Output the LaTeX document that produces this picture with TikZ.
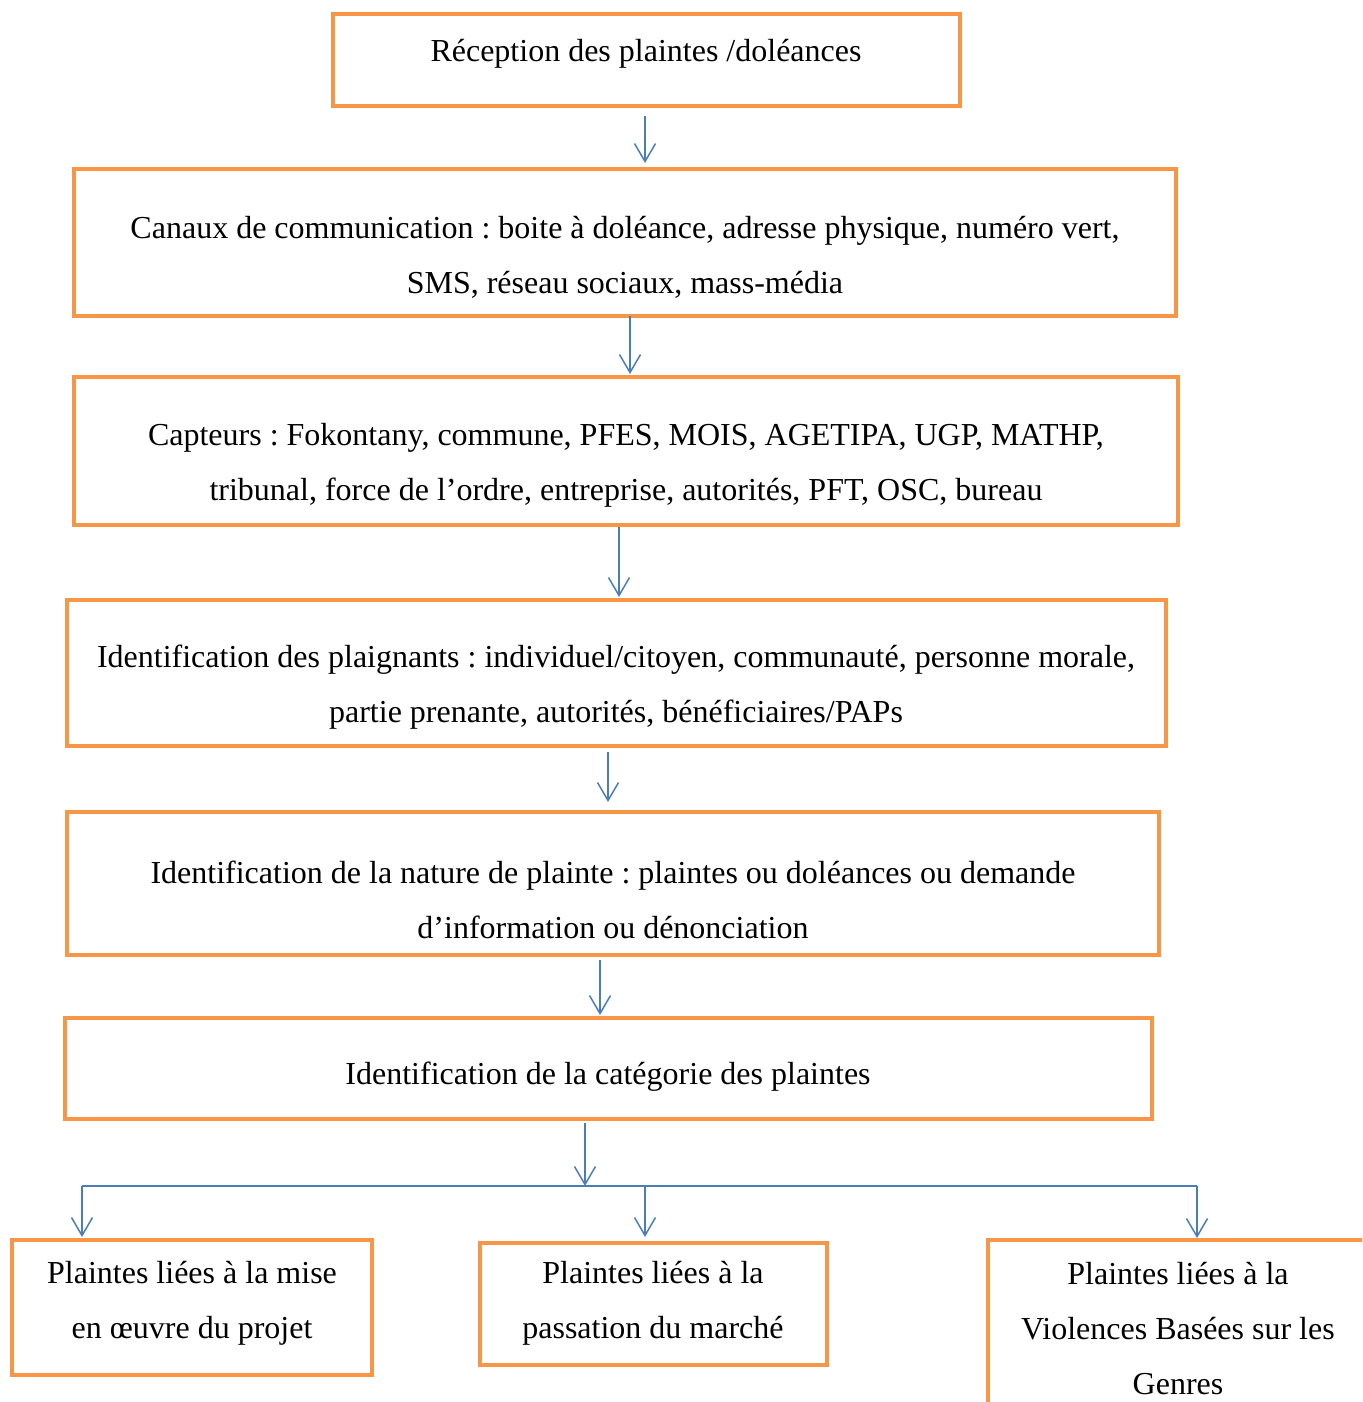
\documentclass[tikz,border=0pt]{standalone}
\usepackage{fontspec}
\setmainfont{Liberation Serif}
\usetikzlibrary{arrows.meta}
\definecolor{boxorange}{HTML}{F79646}
\definecolor{arrowblue}{HTML}{4A7EBB}
\frenchspacing
\begin{document}
\begin{tikzpicture}[x=0.5pt,y=-0.5pt,
  box/.style={draw=boxorange,line width=2pt,rectangle,inner sep=0pt,outer sep=0pt},
  txt/.style={font=\fontsize{16}{27.5}\selectfont,align=center,inner sep=0pt},
  arr/.style={draw=arrowblue,line width=0.75pt,-{Straight Barb[length=9pt,width=10.5pt]}},
  link/.style={draw=arrowblue,line width=0.75pt}]
\useasboundingbox (0,0) rectangle (1362,1402);
\fill[white] (0,0) rectangle (1362,1402);
\begin{scope}
\clip (0,0) rectangle (1362,1402);
% boxes
\node[box,minimum width=313.5pt,minimum height=46pt] (b1) at (646.5,60) {};
\node[box,minimum width=551pt,minimum height=73.5pt] (b2) at (625,242.5) {};
\node[box,minimum width=552pt,minimum height=74pt] (b3) at (626,451) {};
\node[box,minimum width=549.5pt,minimum height=73pt] (b4) at (616.5,673) {};
\node[box,minimum width=546pt,minimum height=71.5pt] (b5) at (613,883.5) {};
\node[box,minimum width=543.5pt,minimum height=50.5pt] (b6) at (608.5,1068.5) {};
\node[box,minimum width=180pt,minimum height=67.5pt] (b7) at (192,1307.5) {};
\node[box,minimum width=173.5pt,minimum height=61pt] (b8) at (653.5,1304) {};
\node[box,minimum width=210pt,minimum height=90pt] (b9) at (1198,1330) {};
% texts
\node[txt] (t1) at (646,54) {Réception des plaintes /doléances};
\node[txt] (t2) at (625,257) {Canaux de communication : boite à doléance, adresse physique, numéro vert,\\ SMS, réseau sociaux, mass-média};
\node[txt] (t3) at (626,465) {Capteurs : Fokontany, commune, PFES, MOIS, AGETIPA, UGP, MATHP,\\ tribunal, force de l’ordre, entreprise, autorités, PFT, OSC, bureau};
\node[txt] (t4) at (616,687) {Identification des plaignants : individuel/citoyen, communauté, personne morale,\\ partie prenante, autorités, bénéficiaires/PAPs};
\node[txt] (t5) at (613,900) {Identification de la nature de plainte : plaintes ou doléances ou demande\\ d’information ou dénonciation};
\node[txt] (t6) at (608,1077) {Identification de la catégorie des plaintes};
\node[txt] (t7) at (192,1303) {Plaintes liées à la mise\\ en œuvre du projet};
\node[txt] (t8) at (653,1303.5) {Plaintes liées à la\\ passation du marché};
\node[txt] (t9) at (1178,1328.5) {Plaintes liées à la\\ Violences Basées sur les\\ Genres};
% connectors
\draw[arr,shorten <=5pt,shorten >=3pt] (b1.south -| 645,0) -- (b2.north -| 645,0);
\draw[arr,shorten >=1.5pt] (b2.south -| 630,0) -- (b3.north -| 630,0);
\draw[arr,shorten <=1pt,shorten >=1.5pt] (b3.south -| 619,0) -- (b4.north -| 619,0);
\draw[arr,shorten <=3pt,shorten >=5pt] (b4.south -| 608,0) -- (b5.north -| 608,0);
\draw[arr,shorten <=2.5pt,shorten >=1.5pt] (b5.south -| 600,0) -- (b6.north -| 600,0);
\coordinate (j) at (585,1186);
\coordinate (jl) at (82,1186);
\coordinate (jm) at (645,1186);
\coordinate (jr) at (1197,1186);
\draw[arr,shorten <=2pt] (b6.south -| j) -- (j);
\draw[link] (jl) -- (jr);
\draw[arr,shorten >=1.5pt] (jl) -- (b7.north -| jl);
\draw[arr,shorten >=3pt] (jm) -- (b8.north -| jm);
\draw[arr,shorten >=1pt] (jr) -- (b9.north -| jr);
\end{scope}
\end{tikzpicture}
\end{document}
